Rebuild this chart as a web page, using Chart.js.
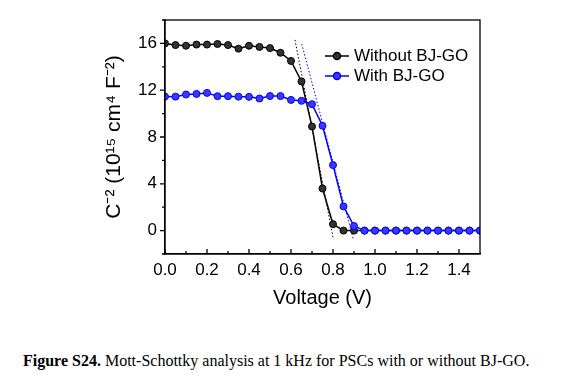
<!DOCTYPE html>
<html>
<head>
<meta charset="utf-8">
<script src="https://cdn.jsdelivr.net/npm/chart.js@4"></script>
<style>
  body { margin: 0; background: #fff; }
  #wrap { position: relative; width: 583px; height: 330px; }
  .caption {
    position: absolute; left: 23px; top: 352px; margin: 0;
    font-family: "Liberation Serif", "Times New Roman", serif; font-size: 16px; color: #000;
    white-space: nowrap;
  }
</style>
</head>
<body>
<div id="wrap"><canvas id="msChart"></canvas></div>
<p class="caption"><b>Figure S24.</b> Mott-Schottky analysis at 1 kHz for PSCs with or without BJ-GO.</p>
<script>
const voltage = [0.00, 0.05, 0.10, 0.15, 0.20, 0.25, 0.30, 0.35, 0.40, 0.45, 0.50, 0.55, 0.60, 0.65, 0.70, 0.75,
  0.80, 0.85, 0.90, 0.95, 1.00, 1.05, 1.10, 1.15, 1.20, 1.25, 1.30, 1.35, 1.40, 1.45, 1.50];
const withoutBJGO = [16.0, 15.86, 15.8, 15.9, 15.9, 15.95, 15.86, 15.55, 15.8, 15.7, 15.6, 15.2, 14.5, 12.75, 8.9, 3.6,
  0.55, 0.0, 0.0, 0, 0, 0, 0, 0, 0, 0, 0, 0, 0, 0, 0];
const withBJGO = [11.46, 11.45, 11.63, 11.68, 11.77, 11.49, 11.49, 11.45, 11.43, 11.29, 11.5, 11.5, 11.17, 11.09, 10.8, 8.96,
  5.6, 2.07, 0.39, 0, 0, 0, 0, 0, 0, 0, 0, 0, 0, 0, 0];
const fitWithout = [{x: 0.619, y: 16.3}, {x: 0.802, y: -0.75}];
const fitWith = [{x: 0.651, y: 15.95}, {x: 0.897, y: -0.75}];
const xTicks = [0, 0.2, 0.4, 0.6, 0.8, 1.0, 1.2, 1.4];
const xMinor = [0.1, 0.3, 0.5, 0.7, 0.9, 1.1, 1.3];
const yTicks = [0, 4, 8, 12, 16];
const yMinor = [-2, 2, 6, 10, 14, 18];

const pts = (ys) => voltage.map((v, i) => ({x: v, y: ys[i]}));

// box, tick marks and the in-plot legend
const framePlugin = {
  id: "frame",
  afterDraw(chart) {
    const {ctx, chartArea: a, scales: {x, y}} = chart;
    ctx.save();
    ctx.strokeStyle = "#000";
    ctx.lineWidth = 1.3;
    ctx.strokeRect(a.left, a.top, a.right - a.left, a.bottom - a.top);
    ctx.beginPath();
    yTicks.forEach(v => { const p = y.getPixelForValue(v); ctx.moveTo(a.left - 5, p); ctx.lineTo(a.left, p); });
    yMinor.forEach(v => { const p = y.getPixelForValue(v); ctx.moveTo(a.left - 3, p); ctx.lineTo(a.left, p); });
    xTicks.forEach(v => { const p = x.getPixelForValue(v); ctx.moveTo(p, a.bottom); ctx.lineTo(p, a.bottom - 5); });
    xMinor.forEach(v => { const p = x.getPixelForValue(v); ctx.moveTo(p, a.bottom); ctx.lineTo(p, a.bottom - 3); });
    ctx.stroke();

    const items = [chart.data.datasets[0], chart.data.datasets[1]];
    items.forEach((ds, i) => {
      const yy = a.top + 36 + i * 20;
      ctx.strokeStyle = ds.borderColor;
      ctx.lineWidth = 1.5;
      ctx.beginPath();
      ctx.moveTo(a.left + 160, yy);
      ctx.lineTo(a.left + 184, yy);
      ctx.stroke();
      ctx.fillStyle = ds.pointBackgroundColor;
      ctx.beginPath();
      ctx.arc(a.left + 172, yy, 3.5, 0, Math.PI * 2);
      ctx.fill();
      ctx.stroke();
      ctx.fillStyle = "#000";
      ctx.font = "17px 'Liberation Sans', Arial, sans-serif";
      ctx.textBaseline = "middle";
      ctx.fillText(ds.label, a.left + 189, yy);
    });
    ctx.restore();
  }
};

new Chart(document.getElementById("msChart").getContext("2d"), {
  type: "line",
  data: {
    datasets: [
      {
        label: "Without BJ-GO",
        data: pts(withoutBJGO),
        borderColor: "#000",
        pointBackgroundColor: "#333",
        pointBorderColor: "#000",
        pointRadius: 3.5,
        pointBorderWidth: 1,
        borderWidth: 1.5,
        tension: 0,
        order: 2,
      },
      {
        label: "With BJ-GO",
        data: pts(withBJGO),
        borderColor: "#0000ff",
        pointBackgroundColor: "#3a3aff",
        pointBorderColor: "#0000ff",
        pointRadius: 3.5,
        pointBorderWidth: 1,
        borderWidth: 1.5,
        tension: 0,
        order: 1,
      },
      {
        label: "fit without",
        data: fitWithout,
        borderColor: "#000",
        borderWidth: 1,
        borderDash: [1.5, 2],
        pointRadius: 0,
        order: 3,
      },
      {
        label: "fit with",
        data: fitWith,
        borderColor: "#0000ff",
        borderWidth: 1,
        borderDash: [1.5, 2],
        pointRadius: 0,
        order: 3,
      },
    ],
  },
  options: {
    responsive: true,
    maintainAspectRatio: false,
    animation: false,
    layout: { padding: { left: 0, top: 20, right: 103, bottom: 0 } },
    scales: {
      x: {
        type: "linear",
        min: 0,
        max: 1.5,
        afterBuildTicks: (s) => { s.ticks = xTicks.map(v => ({value: v})); },
        afterFit: (s) => { s.height = 76; },
        grid: { display: false, drawTicks: false },
        border: { display: true, color: "#000", width: 1.3 },
        ticks: {
          padding: 6,
          color: "#000",
          font: { family: "'Liberation Sans', Arial, sans-serif", size: 17 },
          callback: (v) => Number(v).toFixed(1),
        },
        title: {
          display: true,
          text: "Voltage (V)",
          color: "#000",
          font: { family: "'Liberation Sans', Arial, sans-serif", size: 20 },
          padding: { top: 0, bottom: 20 },
        },
      },
      y: {
        min: -2,
        max: 18,
        afterBuildTicks: (s) => { s.ticks = yTicks.map(v => ({value: v})); },
        afterFit: (s) => { s.width = 165; },
        grid: { display: false, drawTicks: false },
        border: { display: true, color: "#000", width: 1.3 },
        ticks: {
          padding: 8,
          color: "#000",
          font: { family: "'Liberation Sans', Arial, sans-serif", size: 17 },
        },
        title: {
          display: true,
          text: "C\u207B\u00B2 (10\u00B9\u2075 cm\u2074 F\u207B\u00B2)",
          color: "#000",
          font: { family: "'Liberation Sans', Arial, sans-serif", size: 21 },
          padding: { top: 102, bottom: 0 },
        },
      },
    },
    plugins: {
      legend: { display: false },
      tooltip: { enabled: false },
    },
  },
  plugins: [framePlugin],
});
</script>
</body>
</html>
